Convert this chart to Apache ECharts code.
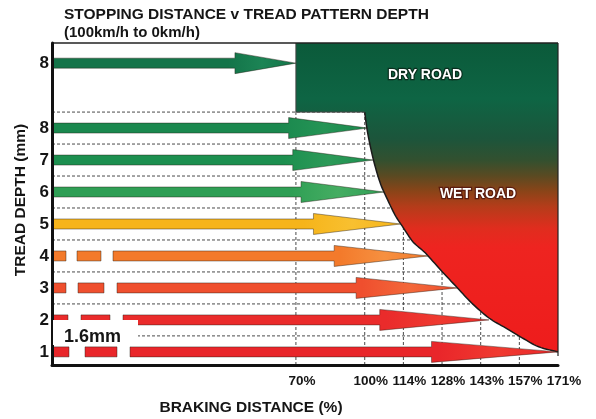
<!DOCTYPE html>
<html>
<head>
<meta charset="utf-8">
<script src="https://cdn.jsdelivr.net/npm/echarts@6.0.0/dist/echarts.min.js"></script>
<style>
  html, body { margin: 0; padding: 0; background: #fff; }
  #chart { width: 596px; height: 419px; }
</style>
</head>
<body>
<div id="chart"></div>
<script>
// rows from bottom (1mm) to top; the last row is the dry road 8mm arrow
const depthLabels = ["1", "2", "3", "4", "5", "6", "7", "8", "8"];
const rowPos = [1, 2, 3, 4, 5, 6, 7, 8, 10.03];
const brakingPct = [171, 146, 134, 123, 113, 107, 103, 101, 70];
const xTickPct = [70, 100, 114, 128, 143, 157, 171];
const gridRows = [1.5, 2.5, 3.5, 4.5, 5.5, 6.5, 7.5, 8.5];
// wet road boundary (depth, braking %)
const curveDepth = [8.5, 7.88, 7.06, 6.31, 5.81, 5.28, 4.88, 4.44, 4.09, 3.56, 3.0, 2.53, 2.06, 1.75, 1.44, 1.16, 1.0];
const curvePct = [100, 101, 103, 105.5, 108, 111, 114, 117.5, 122, 127.5, 134, 139.5, 146, 152, 158, 164, 171];

// the printed x scale is broken: these are where the ticks sit on the axis
const xTickPos = [-1.78, 0, 1, 2, 3, 4, 5];
const X_MIN = -8.09, X_MAX = 5, Y_MIN = 0.59, Y_MAX = 10.66;
const FONT = "'Liberation Sans', Arial, sans-serif";

const arrowColors = ["#e9262a", "#ea2b2b", "#ef4f2e", "#f37a2b", "#f6b41a", "#2f9f55", "#1c8f4f", "#1a884e", "#137449"];
const headColors = ["#f03a30", "#ef3a30", "#f3683a", "#f69040", "#f8c030", "#45ad62", "#2c9a58", "#259455", "#1c8455"];
// gaps of the dashed start (px from the axis)
const dashGaps = [[[17, 33], [65, 78]], [[16, 29], [58, 71]], [[14, 26], [52, 65]], [[14, 25], [49, 61]]];

function toAxis(p) {
  if (p <= xTickPct[0]) return X_MIN + p / xTickPct[0] * (xTickPos[0] - X_MIN);
  for (let i = 1; i < xTickPct.length; i++) {
    if (p <= xTickPct[i]) {
      const t = (p - xTickPct[i - 1]) / (xTickPct[i] - xTickPct[i - 1]);
      return xTickPos[i - 1] + t * (xTickPos[i] - xTickPos[i - 1]);
    }
  }
  return X_MAX;
}

function catmull(p, n) {
  const out = [p[0]];
  for (let i = 0; i < p.length - 1; i++) {
    const p0 = p[i - 1] || p[i], p1 = p[i], p2 = p[i + 1], p3 = p[i + 2] || p[i + 1];
    for (let k = 1; k <= n; k++) {
      const t = k / n, t2 = t * t, t3 = t2 * t;
      out.push([0, 1].map(d => 0.5 * (2 * p1[d] + (-p0[d] + p2[d]) * t +
        (2 * p0[d] - 5 * p1[d] + 4 * p2[d] - p3[d]) * t2 +
        (-p0[d] + 3 * p1[d] - 3 * p2[d] + p3[d]) * t3)));
    }
  }
  return out;
}

const dashStyle = { stroke: "#4a4a4a", lineWidth: 1, lineDash: [3, 2] };

function renderGridLine(params, api) {
  const horizontal = params.seriesName === "hgrid";
  const a = horizontal ? api.coord([X_MIN, api.value(1)]) : api.coord([api.value(0), Y_MIN]);
  const b = horizontal ? api.coord([X_MAX, api.value(1)]) : api.coord([api.value(0), 8.5]);
  return { type: "line", shape: { x1: a[0], y1: a[1], x2: b[0], y2: b[1] }, style: dashStyle };
}

function renderRegion(params, api) {
  const c = (x, y) => api.coord([x, y]);
  const pts = curveDepth.map((d, i) => c(toAxis(curvePct[i]), d));
  const curve = catmull(pts, 8);
  const x70 = toAxis(brakingPct[8]);
  const tl = c(x70, Y_MAX), tr = c(X_MAX, Y_MAX), bl = c(x70, 8.5);
  const br = c(X_MAX, curveDepth[curveDepth.length - 1]);
  const poly = [tl, tr].concat(curve.slice().reverse()).concat([bl]);
  const left = c(X_MIN, Y_MAX);
  return {
    type: "group",
    children: [
      {
        type: "polygon",
        shape: { points: poly },
        style: {
          fill: {
            type: "linear", x: 0, y: 0, x2: 0, y2: 1,
            colorStops: [
              { offset: 0, color: "#0b5a3a" },
              { offset: 0.18, color: "#0e6544" },
              { offset: 0.31, color: "#1c553b" },
              { offset: 0.38, color: "#33502f" },
              { offset: 0.43, color: "#5a4a22" },
              { offset: 0.48, color: "#8a4418" },
              { offset: 0.53, color: "#b53c1a" },
              { offset: 0.6, color: "#e02d1e" },
              { offset: 0.66, color: "#ee2420" },
              { offset: 1, color: "#ee1c1c" }
            ]
          }
        }
      },
      { type: "polyline", shape: { points: curve }, style: { stroke: "#1b1b1b", lineWidth: 1.5, fill: null } },
      { type: "polyline", shape: { points: [tl, bl, pts[0]] }, style: { stroke: "#444", lineWidth: 1, fill: null } },
      { type: "line", shape: { x1: tr[0], y1: tr[1], x2: br[0], y2: br[1] + 4 }, style: { stroke: "#222", lineWidth: 1.2 } },
      { type: "line", shape: { x1: left[0], y1: left[1], x2: tr[0], y2: tr[1] }, style: { stroke: "#222", lineWidth: 1.5 } }
    ]
  };
}

function renderArrow(params, api) {
  const i = api.value(2);
  const tip = api.coord([api.value(0), api.value(1)]);
  const start = api.coord([X_MIN, api.value(1)]);
  const cy = tip[1], sh = 5, hh = 10.5;
  const hs = tip[0] - (tip[0] - start[0]) * 0.25;
  const style = {
    fill: {
      type: "linear", x: 0, y: 0, x2: 1, y2: 0,
      colorStops: [
        { offset: 0, color: arrowColors[i] },
        { offset: 0.72, color: arrowColors[i] },
        { offset: 0.86, color: headColors[i] },
        { offset: 1, color: arrowColors[i] }
      ]
    },
    stroke: "rgba(40,30,20,0.55)",
    lineWidth: 0.8
  };
  const children = [];
  let x0 = start[0];
  (dashGaps[i] || []).forEach(g => {
    children.push({ type: "rect", shape: { x: x0, y: cy - sh, width: start[0] + g[0] - x0, height: sh * 2 }, style: { fill: arrowColors[i], stroke: style.stroke, lineWidth: 0.8 } });
    x0 = start[0] + g[1];
  });
  children.push({
    type: "polygon",
    shape: { points: [[x0, cy - sh], [hs, cy - sh], [hs, cy - hh], [tip[0], cy], [hs, cy + hh], [hs, cy + sh], [x0, cy + sh]] },
    style
  });
  return { type: "group", children };
}

const chart = echarts.init(document.getElementById("chart"));
chart.setOption({
  animation: false,
  textStyle: { fontFamily: FONT },
  title: {
    text: "STOPPING DISTANCE v TREAD PATTERN DEPTH",
    subtext: "(100km/h to 0km/h)",
    left: 59,
    top: 2,
    itemGap: 2,
    textStyle: { fontFamily: FONT, fontSize: 15.5, fontWeight: "bold", color: "#151515" },
    subtextStyle: { fontFamily: FONT, fontSize: 15, fontWeight: "bold", color: "#151515" }
  },
  grid: { left: 52, top: 43, width: 506, height: 322, outerBoundsMode: "none", containLabel: false },
  xAxis: {
    type: "value",
    min: X_MIN,
    max: X_MAX,
    z: 10,
    name: "BRAKING DISTANCE (%)",
    nameLocation: "middle",
    nameGap: 35,
    nameTextStyle: { fontFamily: FONT, fontSize: 15.5, fontWeight: "bold", color: "#151515", padding: [0, 108, 0, 0] },
    axisLine: { show: true, onZero: false, lineStyle: { color: "#111", width: 3 } },
    axisTick: { show: false },
    splitLine: { show: false },
    axisLabel: {
      customValues: xTickPos,
      formatter: v => xTickPct[xTickPos.indexOf(v)] + "%",
      margin: 9,
      padding: [0, 0, 0, 12],
      fontSize: 13.5,
      fontWeight: "bold",
      color: "#151515",
      fontFamily: FONT
    }
  },
  yAxis: {
    type: "value",
    min: Y_MIN,
    max: Y_MAX,
    z: 10,
    name: "TREAD DEPTH (mm)",
    nameLocation: "middle",
    nameGap: 22,
    nameRotate: 90,
    nameTextStyle: { fontFamily: FONT, fontSize: 15.5, fontWeight: "bold", color: "#151515", padding: [0, 0, 0, 8] },
    axisLine: { show: true, onZero: false, lineStyle: { color: "#111", width: 3 } },
    axisTick: { show: false },
    splitLine: { show: false },
    axisLabel: {
      customValues: rowPos,
      formatter: v => depthLabels[rowPos.indexOf(v)],
      margin: 3,
      fontSize: 17,
      fontWeight: "bold",
      color: "#151515",
      fontFamily: FONT
    }
  },
  series: [
    { name: "hgrid", type: "custom", renderItem: renderGridLine, data: gridRows.map(y => [X_MIN, y]), z: 1 },
    { name: "vgrid", type: "custom", renderItem: renderGridLine, data: xTickPct.slice(0, -1).map(p => [toAxis(p), Y_MIN]), z: 1 },
    { name: "region", type: "custom", renderItem: renderRegion, data: [[0, 0]], z: 2 },
    { name: "arrows", type: "custom", renderItem: renderArrow, data: brakingPct.map((p, i) => [toAxis(p), rowPos[i], i]), z: 3 }
  ],
  graphic: [
    { type: "rect", z: 50, shape: { x: 53, y: 320, width: 85, height: 25 }, style: { fill: "#fff" } },
    { type: "text", z: 51, x: 64, y: 346, style: { text: "1.6mm", font: "bold 18px " + FONT, fill: "#151515", textVerticalAlign: "bottom" } },
    { type: "text", z: 51, x: 425, y: 75, style: { text: "DRY ROAD", font: "bold 14px " + FONT, fill: "#fff", textAlign: "center", textVerticalAlign: "middle", stroke: "#0a2e1e", lineWidth: 2.5 } },
    { type: "text", z: 51, x: 478, y: 194, style: { text: "WET ROAD", font: "bold 14px " + FONT, fill: "#fff", textAlign: "center", textVerticalAlign: "middle", stroke: "#5a1c10", lineWidth: 2.5 } }
  ]
});
</script>
</body>
</html>
